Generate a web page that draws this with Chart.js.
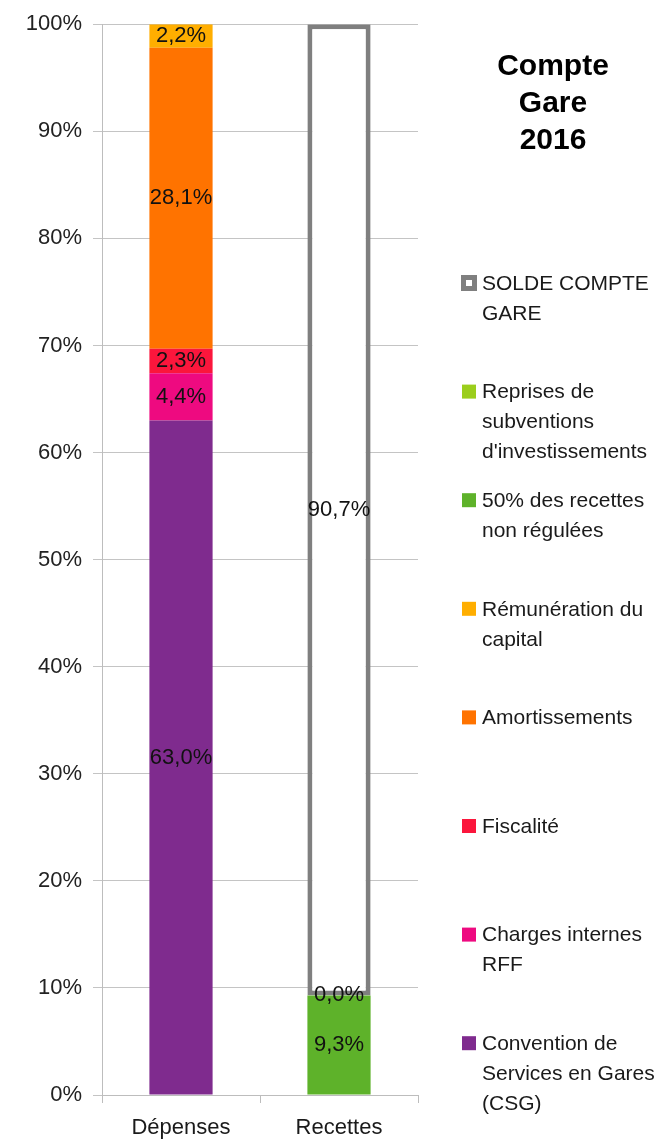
<!DOCTYPE html>
<html lang="fr">
<head>
<meta charset="utf-8">
<title>Compte Gare 2016</title>
<script src="https://cdn.jsdelivr.net/npm/chart.js@4/dist/chart.umd.min.js"></script>
<style>
  html, body { margin: 0; padding: 0; background: #fff; }
  #wrap { position: relative; width: 666px; height: 1142px; }
</style>
</head>
<body>
<div id="wrap"><canvas id="compteGare" width="666" height="1142"></canvas></div>
<script>
// Catégories et valeurs (en % du total de chaque colonne)
const categories = ['Dépenses', 'Recettes'];
const yTicks = [0, 10, 20, 30, 40, 50, 60, 70, 80, 90, 100];

const csg = [63.0, null];
const chargesRFF = [4.4, null];
const fiscalite = [2.3, null];
const amortissements = [28.1, null];
const remuneration = [2.2, null];
const recettesNonRegulees = [null, 9.3];
const reprisesSubventions = [null, 0.0];
const soldeCompteGare = [null, 90.7];

// Libellés de légende, découpés en lignes
const legendCsg = ['Convention de', 'Services en Gares', '(CSG)'];
const legendCharges = ['Charges internes', 'RFF'];
const legendFiscalite = ['Fiscalité'];
const legendAmort = ['Amortissements'];
const legendRemun = ['Rémunération du', 'capital'];
const legendRecettes = ['50% des recettes', 'non régulées'];
const legendReprises = ['Reprises de', 'subventions', "d'investissements"];
const legendSolde = ['SOLDE COMPTE', 'GARE'];

const titleLines = ['Compte', 'Gare', '2016'];

const FONT = '"Liberation Sans", Arial, sans-serif';
Chart.defaults.font.family = FONT;
Chart.defaults.color = '#222';

function serie(data, lines, color, extra) {
  return Object.assign({
    label: lines.join(' '),
    legendLines: lines,
    data: data,
    backgroundColor: color,
    borderWidth: 0,
    barPercentage: 0.4,
    categoryPercentage: 1
  }, extra || {});
}

const datasets = [
  serie(csg, legendCsg, '#7f2b8e'),
  serie(chargesRFF, legendCharges, '#ee0a80'),
  serie(fiscalite, legendFiscalite, '#fb163c'),
  serie(amortissements, legendAmort, '#ff7300'),
  serie(remuneration, legendRemun, '#ffae00'),
  serie(recettesNonRegulees, legendRecettes, '#5eb22a'),
  serie(reprisesSubventions, legendReprises, '#9bce1c'),
  serie(soldeCompteGare, legendSolde, '#ffffff', {
    borderColor: '#7f7f7f', borderWidth: 5, borderSkipped: false
  })
];

// Valeurs écrites au centre de chaque segment
const valeursPlugin = {
  id: 'valeurs',
  afterDatasetsDraw(chart) {
    const ctx = chart.ctx;
    ctx.save();
    ctx.font = '22px ' + FONT;
    ctx.fillStyle = '#111';
    ctx.textAlign = 'center';
    ctx.textBaseline = 'middle';
    chart.data.datasets.forEach((ds, i) => {
      chart.getDatasetMeta(i).data.forEach((bar, j) => {
        const v = ds.data[j];
        if (v === null || v === undefined) return;
        const y = (bar.y + bar.base) / 2;
        ctx.fillText(v.toFixed(1).replace('.', ',') + '%', bar.x, y);
      });
    });
    ctx.restore();
  }
};

// Titre et légende à droite du graphique
const legendePlugin = {
  id: 'legendeDroite',
  afterDraw(chart) {
    const ctx = chart.ctx;
    ctx.save();
    ctx.fillStyle = '#000';
    ctx.textAlign = 'center';
    ctx.textBaseline = 'middle';
    ctx.font = 'bold 30px ' + FONT;
    titleLines.forEach((t, i) => ctx.fillText(t, 553, 67 + i * 37));

    ctx.textAlign = 'left';
    ctx.font = '21px ' + FONT;
    const items = chart.data.datasets.slice().reverse();
    items.forEach((ds, i) => {
      const y0 = 283 + i * 108.6;
      if (ds.borderWidth > 0) {
        ctx.fillStyle = ds.borderColor;
        ctx.fillRect(461, y0 - 8, 16, 16);
        ctx.fillStyle = '#fff';
        ctx.fillRect(466, y0 - 3, 6, 6);
      } else {
        ctx.fillStyle = ds.backgroundColor;
        ctx.fillRect(462, y0 - 7, 14, 14);
      }
      ctx.fillStyle = '#1a1a1a';
      ds.legendLines.forEach((line, k) => ctx.fillText(line, 482, y0 + 1 + k * 30));
    });
    ctx.restore();
  }
};

new Chart(document.getElementById('compteGare'), {
  type: 'bar',
  data: { labels: categories, datasets: datasets },
  options: {
    responsive: false,
    animation: false,
    layout: { padding: { top: 24, right: 248, bottom: 0, left: 0 } },
    plugins: {
      legend: { display: false },
      title: { display: false },
      tooltip: { enabled: false }
    },
    scales: {
      x: {
        stacked: true,
        afterFit(scale) { scale.height = 47; },
        grid: { drawOnChartArea: false, drawTicks: true, tickLength: 8, color: '#bdbdbd' },
        border: { color: '#bdbdbd', width: 1 },
        ticks: { font: { size: 22 }, color: '#1a1a1a', padding: 12 }
      },
      y: {
        stacked: true,
        min: 0,
        max: 100,
        afterFit(scale) { scale.width = 102; },
        afterBuildTicks(scale) { scale.ticks = yTicks.map(v => ({ value: v })); },
        grid: { color: '#c4c4c4', tickLength: 9 },
        border: { color: '#bdbdbd', width: 1 },
        ticks: {
          font: { size: 22 },
          color: '#222',
          padding: 11,
          callback: v => v + '%'
        }
      }
    }
  },
  plugins: [valeursPlugin, legendePlugin]
});
</script>
</body>
</html>
